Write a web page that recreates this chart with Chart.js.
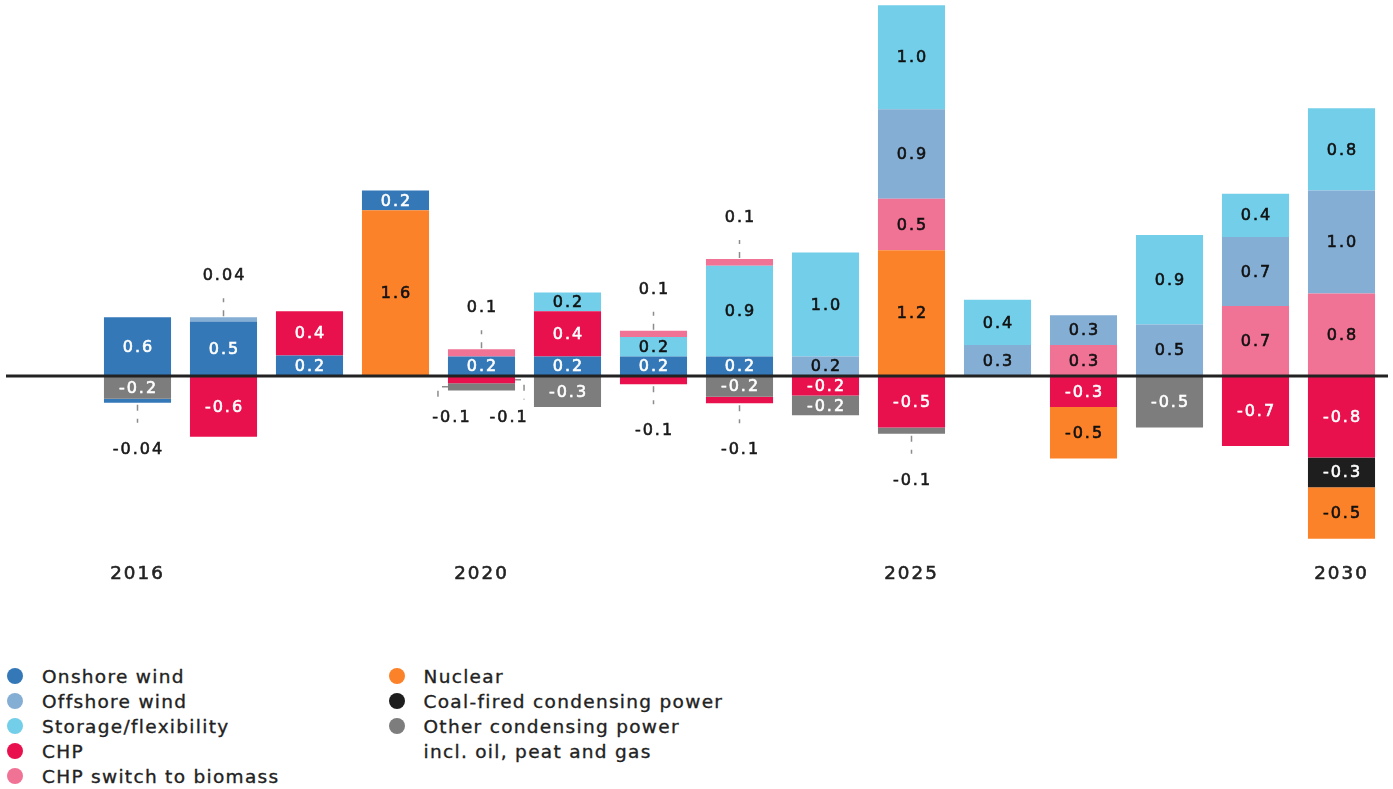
<!DOCTYPE html>
<html>
<head>
<meta charset="utf-8">
<script src="https://cdn.jsdelivr.net/npm/chart.js@4.4.1/dist/chart.umd.min.js"></script>
<style>
  html, body { margin: 0; padding: 0; background: #fff; }
  body { width: 1393px; height: 789px; position: relative; overflow: hidden;
         font-family: "DejaVu Sans", sans-serif; color: #222; }
  #wrap { position: absolute; left: 0; top: 0; width: 1393px; height: 593px; }
  .legend { position: absolute; top: 663.5px; margin: 0; padding: 0; list-style: none; }
  .legend li { position: relative; padding-left: 35px; font-size: 18.5px; line-height: 25px;
               letter-spacing: 1.3px; white-space: pre-line; -webkit-text-stroke: 0.35px #222; }
  .legend .dot { position: absolute; left: 0; top: 4.5px; width: 16px; height: 16px; border-radius: 50%; }
  #legendLeft { left: 7px; }
  #legendRight { left: 388.5px; }
</style>
</head>
<body>
<div id="wrap"><canvas id="chart"></canvas></div>
<ul class="legend" id="legendLeft"></ul>
<ul class="legend" id="legendRight"></ul>
<script>
const years = ['2016', '2017', '2018', '2019', '2020', '2021', '2022', '2023',
               '2024', '2025', '2026', '2027', '2028', '2029', '2030'];
const shownYears = ['2016', '2020', '2025', '2030'];

// capacity added (GW), stacked up from zero in this order
const nuclearAdded    = [null, null, null, 1.61, null, null, null, null, null, 1.22, null, null, null, null, null];
const onshoreAdded    = [0.57, 0.53, 0.2, 0.19, 0.19, 0.19, 0.19, 0.19, null, null, null, null, null, null, null];
const chpAdded        = [null, null, 0.43, null, null, 0.44, null, null, null, null, null, null, null, null, null];
const biomassAdded    = [null, null, null, null, 0.07, null, null, null, null, 0.5, null, 0.3, null, 0.68, 0.8];
const offshoreAdded   = [null, 0.04, null, null, null, null, null, null, 0.19, 0.87, 0.3, 0.29, 0.5, 0.67, 1.0];
const storageAdded    = [null, null, null, null, null, 0.18, 0.19, 0.88, 1.01, 1.01, 0.44, null, 0.87, 0.42, 0.8];
const biomassAddedTop = [null, null, null, null, null, null, 0.06, 0.065, null, null, null, null, null, null, null];

// capacity removed (GW), stacked down from zero in this order
const chpRemoved      = [null, -0.59, null, null, -0.07, null, -0.08, null, -0.19, -0.5, null, -0.3, null, -0.68, -0.79];
const otherRemoved    = [-0.22, null, null, null, -0.07, -0.3, null, -0.2, -0.19, -0.06, null, null, -0.5, null, null];
const onshoreRemoved  = [-0.04, null, null, null, null, null, null, null, null, null, null, null, null, null, null];
const chpRemovedOuter = [null, null, null, null, null, null, null, -0.065, null, null, null, null, null, null, null];
const coalRemoved     = [null, null, null, null, null, null, null, null, null, null, null, null, null, null, -0.29];
const nuclearRemoved  = [null, null, null, null, null, null, null, null, null, null, null, -0.5, null, null, -0.5];

const legendNames = ['Onshore wind', 'Offshore wind', 'Storage/flexibility', 'CHP', 'CHP switch to biomass',
                     'Nuclear', 'Coal-fired condensing power', 'Other condensing power\nincl. oil, peat and gas'];
const legendKeys = ['onshore', 'offshore', 'storage', 'chp', 'biomass', 'nuclear', 'coal', 'other'];

const colors = {
  onshore: '#3478b8',
  offshore: '#85aed5',
  storage: '#73cee9',
  chp: '#e8114d',
  biomass: '#f07294',
  nuclear: '#fc8229',
  coal: '#1e1e1e',
  other: '#7d7d7d',
};
const whiteText = ['onshore', 'chp', 'coal', 'other'];

const layers = [
  ['nuclear', nuclearAdded], ['onshore', onshoreAdded], ['chp', chpAdded], ['biomass', biomassAdded],
  ['offshore', offshoreAdded], ['storage', storageAdded], ['biomass', biomassAddedTop],
  ['chp', chpRemoved], ['other', otherRemoved], ['onshore', onshoreRemoved], ['chp', chpRemovedOuter],
  ['coal', coalRemoved], ['nuclear', nuclearRemoved],
];

function fmt(v) {
  return Math.abs(v) < 0.05 ? v.toFixed(2) : v.toFixed(1);
}

function dashed(ctx, pts) {
  ctx.beginPath();
  ctx.moveTo(pts[0][0], pts[0][1]);
  for (let i = 1; i < pts.length; i++) ctx.lineTo(pts[i][0], pts[i][1]);
  ctx.stroke();
}

// fill plus a hairline stroke so the text reads a bit heavier
function label(ctx, text, x, y, color) {
  ctx.fillStyle = color;
  ctx.strokeStyle = color;
  ctx.lineWidth = 0.6;
  ctx.setLineDash([]);
  ctx.fillText(text, x, y);
  ctx.strokeText(text, x, y);
}

const zeroLine = {
  id: 'zeroLine',
  beforeDraw(chart) {
    chart.ctx.letterSpacing = '2px';
  },
  afterDatasetsDraw(chart) {
    const ctx = chart.ctx;
    const y = chart.scales.y.getPixelForValue(0);
    ctx.save();
    ctx.strokeStyle = '#222';
    ctx.lineWidth = 3;
    ctx.beginPath();
    ctx.moveTo(chart.chartArea.left - 88.5, y);
    ctx.lineTo(chart.chartArea.right + 3.5, y);
    ctx.stroke();
    ctx.restore();
  },
};

const segmentLabels = {
  id: 'segmentLabels',
  afterDatasetsDraw(chart) {
    const ctx = chart.ctx;
    ctx.save();
    ctx.font = '16px "DejaVu Sans"';
    ctx.letterSpacing = '2px';
    ctx.textAlign = 'center';
    ctx.textBaseline = 'middle';
    const small = {};
    chart.data.datasets.forEach((ds, di) => {
      chart.getDatasetMeta(di).data.forEach((bar, i) => {
        const v = ds.data[i];
        if (v == null) return;
        const top = Math.min(bar.y, bar.base);
        const bottom = Math.max(bar.y, bar.base);
        if (Math.abs(v) < 0.1) {
          small[i] = small[i] || { up: [], down: [] };
          small[i][v > 0 ? 'up' : 'down'].push({ bar, v, top, bottom });
          return;
        }
        label(ctx, fmt(v), bar.x + 1, (top + bottom) / 2 + 1, whiteText.includes(ds.key) ? '#fff' : '#111');
      });
    });

    // tiny segments get their value outside the bar on a dashed leader
    const lead = pts => {
      ctx.strokeStyle = '#8c8c8c';
      ctx.lineWidth = 1.5;
      ctx.setLineDash([6, 8]);
      dashed(ctx, pts);
    };
    const ink = '#1a1a1a';
    Object.values(small).forEach(({ up, down }) => {
      up.forEach(s => {
        lead([[s.bar.x, s.top - 1], [s.bar.x, s.top - 19]]);
        label(ctx, fmt(s.v), s.bar.x + 1, s.top - 41, ink);
      });
      if (down.length === 1) {
        const s = down[0];
        lead([[s.bar.x, s.bottom + 2], [s.bar.x, s.bottom + 20]]);
        label(ctx, fmt(s.v), s.bar.x + 1, s.bottom + 47, ink);
      } else if (down.length > 1) {
        const outer = Math.max(...down.map(s => s.bottom));
        down.slice(0, 2).forEach((s, k) => {
          const half = s.bar.width / 2;
          const mid = (s.top + s.bottom) / 2;
          const edge = k === 0 ? s.bar.x + half : s.bar.x - half;
          const off = k === 0 ? 9 : -10;
          lead([[edge, mid], [edge + off, mid], [edge + off, outer + 9]]);
          label(ctx, fmt(s.v), k === 0 ? edge - 6 : edge + 4, outer + 27, ink);
        });
      }
    });
    ctx.restore();
  },
};

const datasets = layers.map(([key, data]) => ({
  key: key,
  label: key,
  data: data,
  backgroundColor: colors[key],
  borderWidth: 0,
  barPercentage: 0.78,
  categoryPercentage: 1,
  stack: 'all',
}));

new Chart(document.getElementById('chart'), {
  type: 'bar',
  data: { labels: years, datasets: datasets },
  options: {
    responsive: true,
    maintainAspectRatio: false,
    animation: false,
    layout: { padding: { left: 94.5, right: 8.5, top: 0, bottom: 0 } },
    plugins: { legend: { display: false }, tooltip: { enabled: false } },
    scales: {
      x: {
        stacked: true,
        grid: { display: false, drawTicks: false },
        border: { display: false },
        ticks: {
          autoSkip: false,
          maxRotation: 0,
          padding: 8,
          color: '#222',
          textStrokeColor: '#222',
          textStrokeWidth: 0.6,
          font: { family: 'DejaVu Sans', size: 18.3 },
          callback: (v, i) => shownYears.includes(years[i]) ? years[i] : '',
        },
      },
      y: {
        stacked: true,
        display: false,
        min: -1.7379,
        max: 3.6505,
      },
    },
  },
  plugins: [zeroLine, segmentLabels],
});

// two-column legend under the chart
const cols = [document.getElementById('legendLeft'), document.getElementById('legendRight')];
legendNames.forEach((name, i) => {
  const li = document.createElement('li');
  const dot = document.createElement('span');
  dot.className = 'dot';
  dot.style.background = colors[legendKeys[i]];
  li.appendChild(dot);
  li.appendChild(document.createTextNode(name));
  cols[i < 5 ? 0 : 1].appendChild(li);
});
</script>
</body>
</html>
